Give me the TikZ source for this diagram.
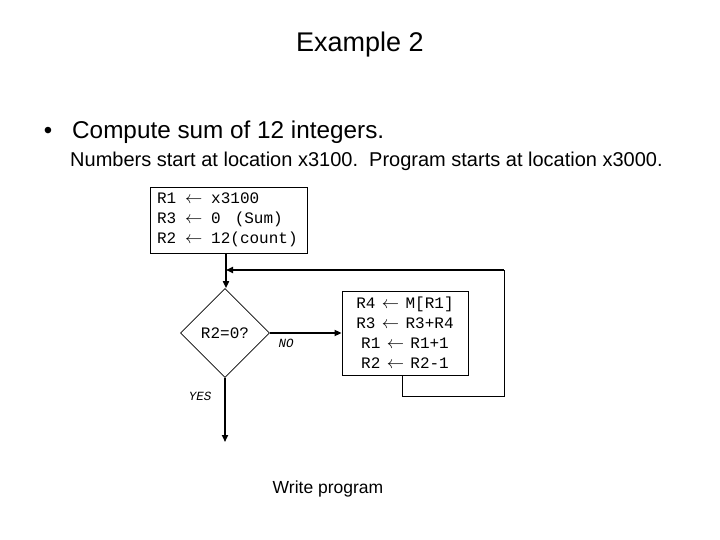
\documentclass[tikz,border=0pt]{standalone}
\usepackage{fontspec}
\setmainfont{Liberation Sans}
\setmonofont{Liberation Mono}
\usetikzlibrary{shapes.geometric,arrows.meta}
\newcommand{\larr}[1]{\makebox[#1]{\normalfont\fontsize{16}{20}\selectfont$\leftarrow$}}
\begin{document}
\begin{tikzpicture}[x=1pt,y=-1pt,
  thinbox/.style={draw,line width=0.8pt},
  codetext/.style={font=\ttfamily\fontsize{16}{20}\selectfont},
  flowarrow/.style={line width=1.6pt,-{Triangle[length=7pt,width=6pt]}},
  thinline/.style={line width=0.8pt},
  lbl/.style={font=\ttfamily\itshape\fontsize{12.5}{14}\selectfont}]
\useasboundingbox (0,0) rectangle (720,540);
\node (title) at (360,45) {\fontsize{27}{32}\selectfont Example 2};
\node (bullet) at (48,133) {\fontsize{24}{28}\selectfont •};
\node[anchor=west,inner sep=0pt] (line1) at (72,132) {\fontsize{24.3}{28}\selectfont Compute sum of 12 integers.};
\node[anchor=west,inner sep=0pt] (line2) at (70,161) {\fontsize{20}{24}\selectfont Numbers start at location x3100.\ \ Program starts at location x3000.};
\node[thinbox,codetext,inner xsep=7pt,inner ysep=0pt,text width=143pt,minimum height=66pt,align=left] (box1) at (228.5,220)
  {R1\larr{35pt}x3100\\R3\larr{35pt}0\hspace{14pt}(Sum)\\R2\larr{35pt}12(count)};
\node[draw,line width=0.6pt,diamond,aspect=1,inner sep=0pt,minimum width=89pt,minimum height=89pt,codetext] (dec) at (225,333) {R2=0?};
\node[thinbox,codetext,inner sep=0pt,minimum width=126pt,minimum height=84pt,align=center] (box2) at (405,333)
  {R4\larr{30pt}M[R1]\\R3\larr{30pt}R3+R4\\R1\larr{30pt}R1+1\\R2\larr{30pt}R2-1};
\coordinate (j) at (226,270);
\coordinate (c1) at (504,270);
\coordinate (c2) at (504,396);
\coordinate (c3) at (402,396);
\coordinate (e) at (225,442);
\draw[flowarrow] (box1.south -| j) -- (dec.north -| j);
\draw[thinline] (c3 |- box2.south) -- (c3) -- (c2) -- (c1);
\draw[flowarrow] (c1) -- (j);
\draw[flowarrow] (dec.east) -- (box2.west);
\draw[flowarrow] (dec.south) -- (e);
\node[lbl] (no) at (286,343) {NO};
\node[lbl] (yes) at (200,396) {YES};
\node (wp) at (328,489) {\fontsize{17.5}{20}\selectfont Write program};
\end{tikzpicture}
\end{document}
